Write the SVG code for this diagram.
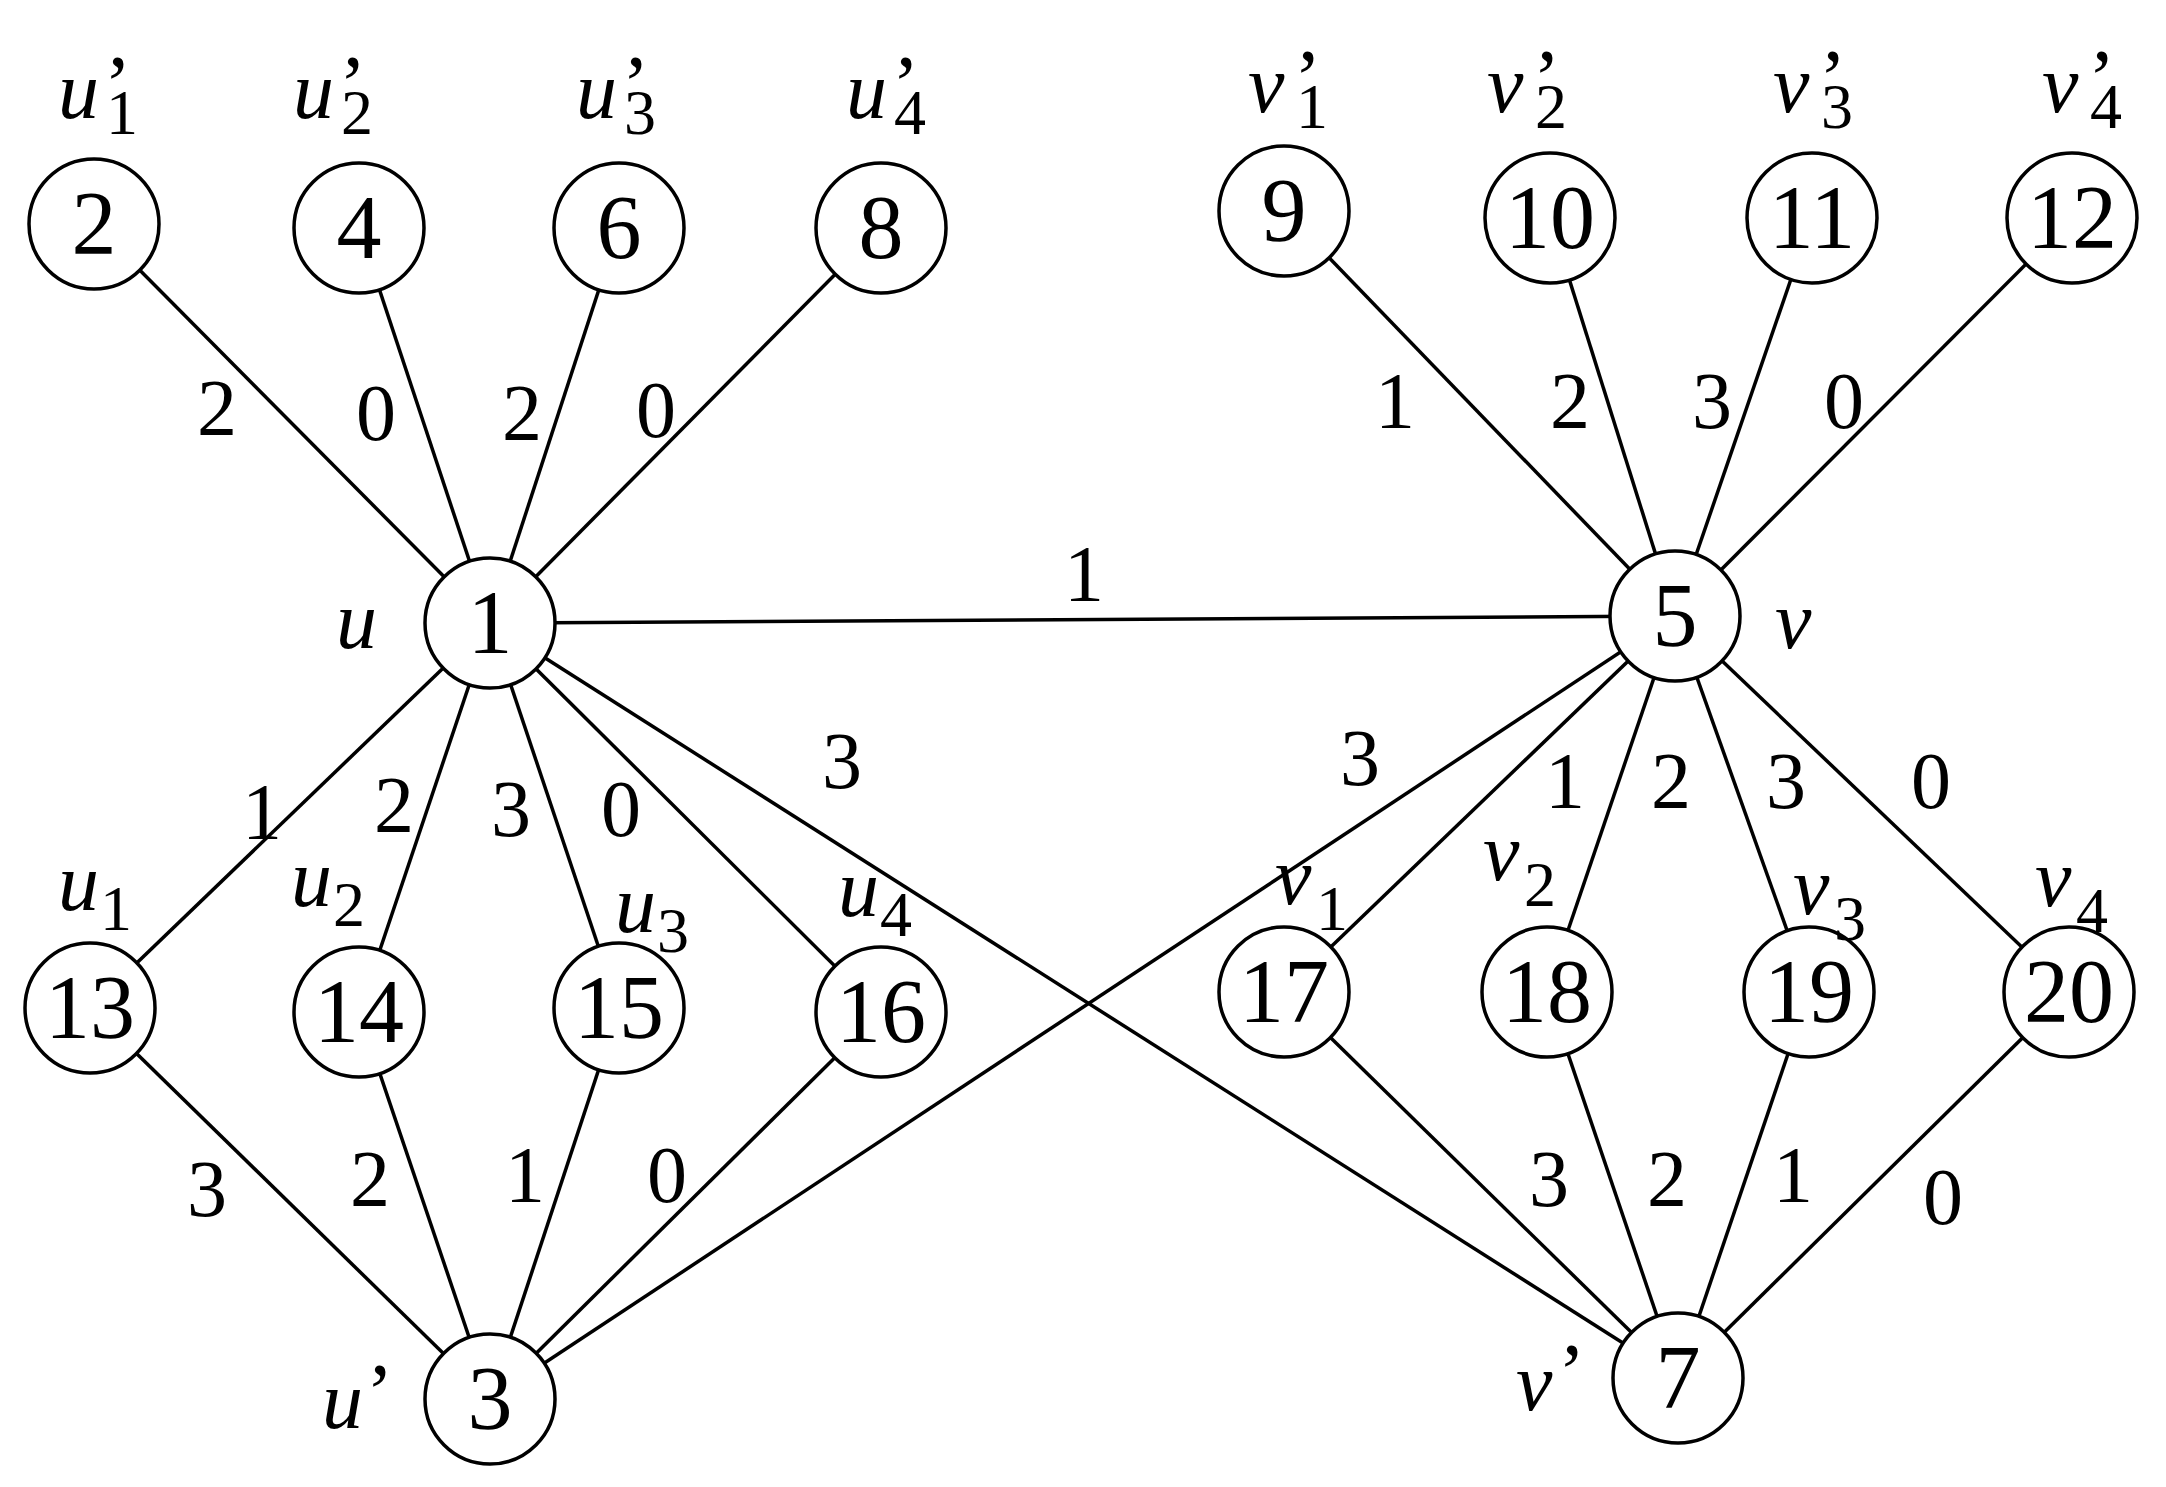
<svg xmlns="http://www.w3.org/2000/svg" width="2166" height="1487" viewBox="0 0 2166 1487">
<style>
.e{stroke:#000;stroke-width:3.5;fill:none}
.n{fill:#fff;stroke:#000;stroke-width:3.5}
.t{font-family:"Liberation Serif",serif;font-size:90px;text-anchor:middle;fill:#000}
.w{font-family:"Liberation Serif",serif;font-size:80px;text-anchor:middle;fill:#000}
.l{font-family:"Liberation Serif",serif;font-size:82px;font-style:italic;fill:#000}
.p{font-family:"Liberation Serif",serif;font-size:82px;fill:#000}
.s{font-family:"Liberation Serif",serif;font-size:64px;fill:#000}
</style>
<rect width="2166" height="1487" fill="#fff"/>
<g id="edges">
<line class="e" x1="94" y1="224" x2="490" y2="623"/>
<line class="e" x1="359" y1="228" x2="490" y2="623"/>
<line class="e" x1="619" y1="228" x2="490" y2="623"/>
<line class="e" x1="881" y1="228" x2="490" y2="623"/>
<line class="e" x1="490" y1="623" x2="1675" y2="616"/>
<line class="e" x1="490" y1="623" x2="90" y2="1008"/>
<line class="e" x1="490" y1="623" x2="359" y2="1012"/>
<line class="e" x1="490" y1="623" x2="619" y2="1008"/>
<line class="e" x1="490" y1="623" x2="881" y2="1012"/>
<line class="e" x1="490" y1="623" x2="1678" y2="1378"/>
<line class="e" x1="1284" y1="211" x2="1675" y2="616"/>
<line class="e" x1="1550" y1="218" x2="1675" y2="616"/>
<line class="e" x1="1812" y1="218" x2="1675" y2="616"/>
<line class="e" x1="2072" y1="218" x2="1675" y2="616"/>
<line class="e" x1="1675" y1="616" x2="490" y2="1399"/>
<line class="e" x1="1675" y1="616" x2="1284" y2="992"/>
<line class="e" x1="1675" y1="616" x2="1547" y2="992"/>
<line class="e" x1="1675" y1="616" x2="1809" y2="992"/>
<line class="e" x1="1675" y1="616" x2="2069" y2="992"/>
<line class="e" x1="90" y1="1008" x2="490" y2="1399"/>
<line class="e" x1="359" y1="1012" x2="490" y2="1399"/>
<line class="e" x1="619" y1="1008" x2="490" y2="1399"/>
<line class="e" x1="881" y1="1012" x2="490" y2="1399"/>
<line class="e" x1="1284" y1="992" x2="1678" y2="1378"/>
<line class="e" x1="1547" y1="992" x2="1678" y2="1378"/>
<line class="e" x1="1809" y1="992" x2="1678" y2="1378"/>
<line class="e" x1="2069" y1="992" x2="1678" y2="1378"/>
</g>
<g id="weights" class="w">
<text x="217" y="435">2</text><text x="376" y="440">0</text><text x="522" y="440">2</text><text x="656" y="437">0</text>
<text x="1395" y="428">1</text><text x="1570" y="428">2</text><text x="1712" y="428">3</text><text x="1844" y="428">0</text>
<text x="1084" y="601">1</text>
<text x="262" y="839">1</text><text x="394" y="832">2</text><text x="511" y="836">3</text><text x="621" y="836">0</text><text x="842" y="788">3</text>
<text x="1360" y="785">3</text><text x="1565" y="808">1</text><text x="1671" y="808">2</text><text x="1786" y="808">3</text><text x="1931" y="808">0</text>
<text x="207" y="1216">3</text><text x="370" y="1206">2</text><text x="525" y="1202">1</text><text x="667" y="1202">0</text>
<text x="1549" y="1206">3</text><text x="1667" y="1206">2</text><text x="1793" y="1202">1</text><text x="1943" y="1224">0</text>
</g>
<g id="n1"><circle class="n" cx="490" cy="623" r="65"/><text class="t" x="490" y="653">1</text></g>
<g id="n2"><circle class="n" cx="94" cy="224" r="65"/><text class="t" x="94" y="254">2</text></g>
<g id="n3"><circle class="n" cx="490" cy="1399" r="65"/><text class="t" x="490" y="1429">3</text></g>
<g id="n4"><circle class="n" cx="359" cy="228" r="65"/><text class="t" x="359" y="258">4</text></g>
<g id="n5"><circle class="n" cx="1675" cy="616" r="65"/><text class="t" x="1675" y="646">5</text></g>
<g id="n6"><circle class="n" cx="619" cy="228" r="65"/><text class="t" x="619" y="258">6</text></g>
<g id="n7"><circle class="n" cx="1678" cy="1378" r="65"/><text class="t" x="1678" y="1408">7</text></g>
<g id="n8"><circle class="n" cx="881" cy="228" r="65"/><text class="t" x="881" y="258">8</text></g>
<g id="n9"><circle class="n" cx="1284" cy="211" r="65"/><text class="t" x="1284" y="241">9</text></g>
<g id="n10"><circle class="n" cx="1550" cy="218" r="65"/><text class="t" x="1550" y="248">10</text></g>
<g id="n11"><circle class="n" cx="1812" cy="218" r="65"/><text class="t" x="1812" y="248">11</text></g>
<g id="n12"><circle class="n" cx="2072" cy="218" r="65"/><text class="t" x="2072" y="248">12</text></g>
<g id="n13"><circle class="n" cx="90" cy="1008" r="65"/><text class="t" x="90" y="1038">13</text></g>
<g id="n14"><circle class="n" cx="359" cy="1012" r="65"/><text class="t" x="359" y="1042">14</text></g>
<g id="n15"><circle class="n" cx="619" cy="1008" r="65"/><text class="t" x="619" y="1038">15</text></g>
<g id="n16"><circle class="n" cx="881" cy="1012" r="65"/><text class="t" x="881" y="1042">16</text></g>
<g id="n17"><circle class="n" cx="1284" cy="992" r="65"/><text class="t" x="1284" y="1022">17</text></g>
<g id="n18"><circle class="n" cx="1547" cy="992" r="65"/><text class="t" x="1547" y="1022">18</text></g>
<g id="n19"><circle class="n" cx="1809" cy="992" r="65"/><text class="t" x="1809" y="1022">19</text></g>
<g id="n20"><circle class="n" cx="2069" cy="992" r="65"/><text class="t" x="2069" y="1022">20</text></g>
<g id="labels">
<text class="l" x="58" y="118">u</text><text class="p" x="104" y="112">’</text><text class="s" x="106" y="134">1</text>
<text class="l" x="293" y="118">u</text><text class="p" x="339" y="112">’</text><text class="s" x="341" y="134">2</text>
<text class="l" x="576" y="118">u</text><text class="p" x="622" y="112">’</text><text class="s" x="624" y="134">3</text>
<text class="l" x="846" y="118">u</text><text class="p" x="892" y="112">’</text><text class="s" x="894" y="134">4</text>
<text class="l" x="1248" y="112">v</text><text class="p" x="1294" y="106">’</text><text class="s" x="1296" y="128">1</text>
<text class="l" x="1487" y="112">v</text><text class="p" x="1533" y="106">’</text><text class="s" x="1535" y="128">2</text>
<text class="l" x="1773" y="112">v</text><text class="p" x="1819" y="106">’</text><text class="s" x="1821" y="128">3</text>
<text class="l" x="2042" y="112">v</text><text class="p" x="2088" y="106">’</text><text class="s" x="2090" y="128">4</text>
<text class="l" x="58" y="910">u</text><text class="s" x="100" y="930">1</text>
<text class="l" x="291" y="906">u</text><text class="s" x="333" y="926">2</text>
<text class="l" x="615" y="932">u</text><text class="s" x="657" y="952">3</text>
<text class="l" x="838" y="916">u</text><text class="s" x="880" y="936">4</text>
<text class="l" x="1275" y="904">v</text><text class="s" x="1316" y="930">1</text>
<text class="l" x="1483" y="880">v</text><text class="s" x="1524" y="906">2</text>
<text class="l" x="1793" y="914">v</text><text class="s" x="1834" y="940">3</text>
<text class="l" x="2035" y="906">v</text><text class="s" x="2076" y="932">4</text>
<text class="l" x="336" y="648">u</text>
<text class="l" x="1775" y="648">v</text>
<text class="l" x="322" y="1428">u</text><text class="p" x="366" y="1420">’</text>
<text class="l" x="1516" y="1410">v</text><text class="p" x="1558" y="1400">’</text>
</g>
</svg>
